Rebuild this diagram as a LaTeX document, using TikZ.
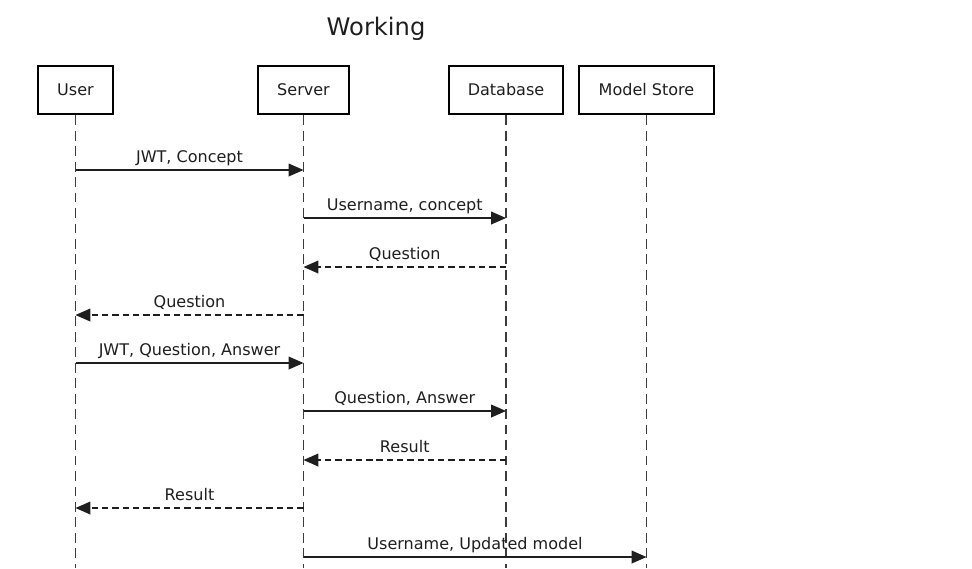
\documentclass[tikz,border=0pt]{standalone}
\usepackage{fontspec}
\setmainfont{DejaVu Sans}
\usetikzlibrary{arrows.meta,positioning,calc}
\definecolor{seqLine}{RGB}{30, 30, 30}
\definecolor{seqLife}{RGB}{60, 60, 60}
\definecolor{seqText}{RGB}{30, 30, 30}

\tikzset{
  actor/.style={draw=black,line width=1.8pt,minimum height=1.2cm,
                inner sep=0pt,font=\fontsize{11.4}{13}\selectfont,text=seqText},
  life/.style={seqLife,line width=1.1pt,dash pattern=on 7pt off 4pt},
  msg/.style={seqLine,line width=0.9pt,-{Triangle[length=10.5pt,width=9pt]}},
  reply/.style={msg,dash pattern=on 4.5pt off 2.8pt},
  lbl/.style={above,inner sep=2pt,text depth=2.6pt,text=seqText,
              font=\fontsize{11.4}{13}\selectfont}
}

\begin{document}
\begin{tikzpicture}[x=0.025cm,y=-0.025cm]
  \useasboundingbox (0,0) rectangle (972,568);

  \node[font=\fontsize{17.2}{21}\selectfont,text=seqText] (title) at (376,29) {Working};

  % participants and their lifelines
  \foreach \name/\x/\w/\txt in {
    user/75.5/75/User,
    server/303.5/91/Server,
    db/506/114/Database,
    store/646.5/135/Model Store}{
    \node[actor,minimum width=\w*0.025cm] (\name) at (\x,90) {\txt};
    \draw[life] (\name.south) -- (\name.south |- 0,568);
  }

  % messages
  \foreach \y/\from/\to/\kind/\txt in {
    170/user/server/msg/{JWT, Concept},
    218/server/db/msg/{Username, concept},
    267/db/server/reply/{Question},
    315/server/user/reply/{Question},
    363/user/server/msg/{JWT, Question, Answer},
    411/server/db/msg/{Question, Answer},
    460/db/server/reply/{Result},
    508/server/user/reply/{Result},
    557/server/store/msg/{Username, Updated model}}{
    \draw[\kind] (\from |- 0,\y) -- node[lbl] {\txt} (\to |- 0,\y);
  }
\end{tikzpicture}
\end{document}
